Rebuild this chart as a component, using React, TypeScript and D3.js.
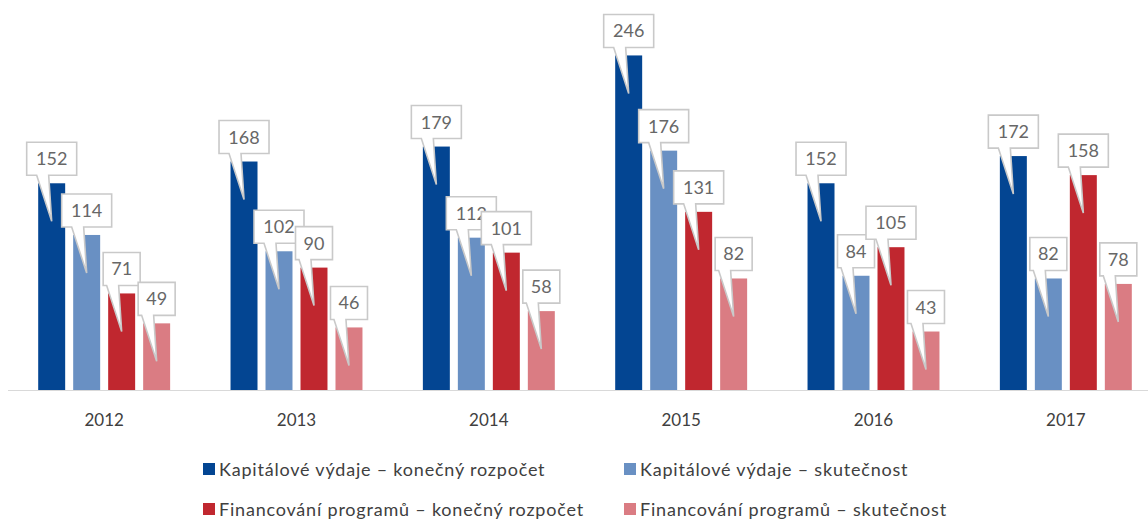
import * as d3 from 'd3';
import { useRef, useEffect } from 'react';

const years = ['2012', '2013', '2014', '2015', '2016', '2017'];
const seriesNames = [
    'Kapitálové výdaje – konečný rozpočet',
    'Kapitálové výdaje – skutečnost',
    'Financování programů – konečný rozpočet',
    'Financování programů – skutečnost',
];
const kapitaloveRozpocet = [152, 168, 179, 246, 152, 172];
const kapitaloveSkutecnost = [114, 102, 112, 176, 84, 82];
const financovaniRozpocet = [71, 90, 101, 131, 105, 158];
const financovaniSkutecnost = [49, 46, 58, 82, 43, 78];
const colors = ['#034592', '#6990c3', '#c0272f', '#da7c83'];

const FONT = 'Lato, "Open Sans", sans-serif';

const App = () => {
    const svgRef = useRef<SVGSVGElement>(null);

    useEffect(() => {
        if (!svgRef.current) return;
        const width = 1148;
        const height = 520;
        const baseline = 390;

        const svg = d3.select(svgRef.current);
        svg.selectAll('*').remove();
        svg.attr('width', width).attr('height', height);

        const series = [kapitaloveRozpocet, kapitaloveSkutecnost, financovaniRozpocet, financovaniSkutecnost];
        const rows = years.map((year, i) => ({ year, values: series.map(s => s[i]) }));

        const x0 = d3.scaleBand()
            .domain(years)
            .range([8, 1162])
            .paddingInner(0.314)
            .paddingOuter(0.157);

        const x1 = d3.scaleBand<number>()
            .domain([0, 1, 2, 3])
            .range([0, x0.bandwidth()])
            .paddingInner(0.229)
            .paddingOuter(0);

        const y = d3.scaleLinear()
            .domain([0, 250])
            .range([baseline, baseline - 340]);

        // axis line
        svg.append('line')
            .attr('x1', 8).attr('x2', width)
            .attr('y1', baseline + 0.5).attr('y2', baseline + 0.5)
            .attr('stroke', '#d9d9d9')
            .attr('stroke-width', 1);

        const groups = svg.selectAll('.grp')
            .data(rows)
            .enter()
            .append('g')
            .attr('class', 'grp')
            .attr('transform', d => `translate(${x0(d.year)},0)`);

        groups.selectAll('rect')
            .data(d => d.values)
            .enter()
            .append('rect')
            .attr('x', (_, i) => x1(i) || 0)
            .attr('y', d => y(d))
            .attr('width', x1.bandwidth())
            .attr('height', d => baseline - y(d))
            .attr('fill', (_, i) => colors[i]);

        // callout labels
        const callouts = groups.selectAll('.callout')
            .data(d => d.values)
            .enter()
            .append('g')
            .attr('class', 'callout');

        callouts.append('path')
            .attr('d', (d, i) => {
                const cx = (x1(i) || 0) + x1.bandwidth() / 2;
                const top = y(d);
                const w = String(d).length > 2 ? 50 : 37;
                const h = 33;
                const bottom = top - 8;
                const l = cx - w / 2;
                const r = cx + w / 2;
                const t = bottom - h;
                const tip = top + 38;
                return `M${l},${t}H${r}V${bottom}H${cx - 3}L${cx},${tip}L${cx - 15},${bottom}H${l}Z`;
            })
            .attr('fill', '#ffffff')
            .attr('stroke', '#c9c9c9')
            .attr('stroke-width', 1.6)
            .attr('stroke-linejoin', 'miter');

        callouts.append('text')
            .attr('x', (_, i) => (x1(i) || 0) + x1.bandwidth() / 2)
            .attr('y', d => y(d) - 8 - 16.5)
            .attr('dy', '0.36em')
            .attr('text-anchor', 'middle')
            .attr('font-family', FONT)
            .attr('font-size', 18)
            .attr('fill', '#676767')
            .text(d => d);

        // year labels
        svg.selectAll('.yr')
            .data(years)
            .enter()
            .append('text')
            .attr('class', 'yr')
            .attr('x', d => (x0(d) || 0) + x0.bandwidth() / 2)
            .attr('y', 426)
            .attr('text-anchor', 'middle')
            .attr('font-family', FONT)
            .attr('font-size', 17)
            .attr('fill', '#404040')
            .text(d => d);

        // legend
        const legendX = [203, 624];
        const legendY = [476, 516];
        const legend = svg.selectAll('.lg')
            .data(seriesNames)
            .enter()
            .append('g')
            .attr('class', 'lg')
            .attr('transform', (_, i) => `translate(${legendX[i % 2]},${legendY[Math.floor(i / 2)]})`);

        legend.append('rect')
            .attr('x', 0).attr('y', -13)
            .attr('width', 12).attr('height', 12)
            .attr('fill', (_, i) => colors[i]);

        legend.append('text')
            .attr('x', 16)
            .attr('y', 0)
            .attr('font-family', FONT)
            .attr('font-size', 18)
            .attr('letter-spacing', 0.8)
            .attr('fill', '#404040')
            .text(d => d);
    }, []);

    return <svg ref={svgRef} style={{ position: 'absolute', left: 0, top: 0 }} />;
};

export default App;
